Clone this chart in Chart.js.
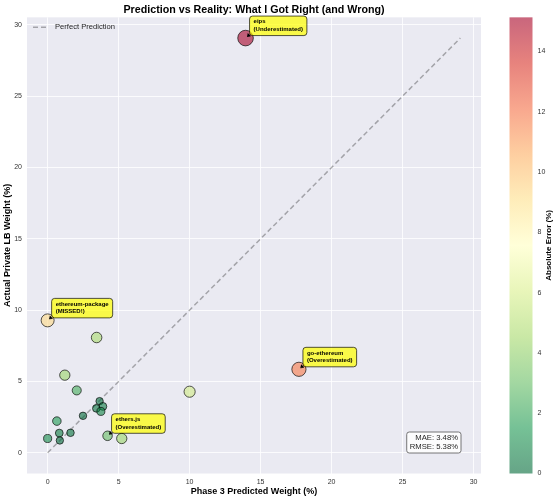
<!DOCTYPE html>
<html><head><meta charset="utf-8">
<script src="https://cdn.jsdelivr.net/npm/chart.js@4.4.1/dist/chart.umd.min.js"></script>
<style>html,body{margin:0;padding:0;background:#fff;}canvas{display:block;}</style>
</head><body>
<canvas id="c" width="559" height="500"></canvas>
<script>
// ---- data ----
const predicted = [0, 3.45, 1.21, 2.05, 10.0, 3.66, 3.89, 3.43, 3.75, 2.49, 0.65, 0.82, 1.61, 0.86, 0, 4.22, 5.22, 17.7, 13.94];
const actual    = [9.28, 8.08, 5.44, 4.37, 4.28, 3.62, 3.25, 3.11, 2.90, 2.59, 2.22, 1.38, 1.40, 0.86, 1.0, 1.19, 1.0, 5.85, 29.07];
const names     = ['ethereum-package','','','','','','','','','','','','','','','ethers.js','','go-ethereum','eips'];
const notes     = ['(MISSED!)','','','','','','','','','','','','','','','(Overestimated)','','(Overestimated)','(Underestimated)'];
const axisTicks = [0, 5, 10, 15, 20, 25, 30];
const colorbarTicks = [0, 2, 4, 6, 8, 10, 12, 14];
const statsLines = ['MAE: 3.48%', 'RMSE: 5.38%'];
const titleText = 'Prediction vs Reality: What I Got Right (and Wrong)';
const xTitle = 'Phase 3 Predicted Weight (%)';
const yTitle = 'Actual Private LB Weight (%)';
const cbTitle = 'Absolute Error (%)';
const lineLabel = 'Perfect Prediction';

// ---- derived ----
const errors = predicted.map((p, i) => Math.abs(actual[i] - p));
const vmin = 0;
const vmax = Math.max(...errors);
const maxV = Math.max(...predicted, ...actual);
const pad = maxV * 0.05;

const FONT = "'Liberation Sans', Arial, sans-serif";
const RdYlGn_r = [[0,104,55],[26,152,80],[102,189,99],[166,217,106],[217,239,139],[255,255,191],[254,224,139],[253,174,97],[244,109,67],[215,48,39],[165,0,38]];
function cmap(t) {
  t = Math.max(0, Math.min(1, t));
  const f = t * (RdYlGn_r.length - 1);
  const i = Math.min(Math.floor(f), RdYlGn_r.length - 2);
  const r = f - i;
  const a = RdYlGn_r[i], b = RdYlGn_r[i + 1];
  return [0,1,2].map(k => Math.round(a[k] + (b[k] - a[k]) * r));
}
function colorFor(e, alpha) {
  const c = cmap((e - vmin) / (vmax - vmin));
  return `rgba(${c[0]},${c[1]},${c[2]},${alpha})`;
}
function radiusFor(e) { return Math.sqrt(17.5 + 3.4 * e) - 0.5; }

const bgPlugin = {
  id: 'bg',
  beforeDraw(chart) {
    const {ctx, chartArea: a} = chart;
    ctx.save();
    ctx.fillStyle = '#EAEAF2';
    ctx.fillRect(a.left, a.top, a.right - a.left, a.bottom - a.top);
    ctx.restore();
  }
};

function roundRect(ctx, x, y, w, h, r) {
  ctx.beginPath();
  ctx.moveTo(x + r, y);
  ctx.lineTo(x + w - r, y);
  ctx.quadraticCurveTo(x + w, y, x + w, y + r);
  ctx.lineTo(x + w, y + h - r);
  ctx.quadraticCurveTo(x + w, y + h, x + w - r, y + h);
  ctx.lineTo(x + r, y + h);
  ctx.quadraticCurveTo(x, y + h, x, y + h - r);
  ctx.lineTo(x, y + r);
  ctx.quadraticCurveTo(x, y, x + r, y);
  ctx.closePath();
}

const overlayPlugin = {
  id: 'overlay',
  afterDraw(chart) {
    const {ctx, chartArea: a, scales} = chart;
    ctx.save();
    // legend
    const ds = chart.data.datasets[1];
    ctx.beginPath();
    ctx.setLineDash(ds.borderDash);
    ctx.strokeStyle = ds.borderColor;
    ctx.lineWidth = ds.borderWidth;
    ctx.moveTo(a.left + 6, a.top + 10);
    ctx.lineTo(a.left + 22, a.top + 10);
    ctx.stroke();
    ctx.setLineDash([]);
    ctx.font = `7.6px ${FONT}`;
    ctx.fillStyle = '#262626';
    ctx.textAlign = 'left';
    ctx.textBaseline = 'middle';
    ctx.fillText(ds.label, a.left + 28, a.top + 10);
    // annotations
    ctx.font = `bold 6px ${FONT}`;
    names.forEach((n, i) => {
      if (!n) return;
      const px = scales.x.getPixelForValue(predicted[i]);
      const py = scales.y.getPixelForValue(actual[i]);
      const lines = [n, notes[i]];
      const w = Math.max(...lines.map(l => ctx.measureText(l).width)) + 8;
      const h = 19.5;
      const bx = px + 4, by = py - 2.5 - h;
      roundRect(ctx, bx, by, w, h, 3);
      ctx.fillStyle = 'rgba(255,255,0,0.7)';
      ctx.fill();
      ctx.strokeStyle = 'rgba(0,0,0,0.75)';
      ctx.lineWidth = 0.9;
      ctx.stroke();
      ctx.fillStyle = '#000';
      ctx.textAlign = 'left';
      ctx.textBaseline = 'middle';
      ctx.fillText(lines[0], bx + 4, by + 5.6);
      ctx.fillText(lines[1], bx + 4, by + 13.2);
      // arrow
      ctx.beginPath();
      ctx.moveTo(bx + 1, by + h + 0.5);
      ctx.lineTo(px + 1.5, py - 1.5);
      ctx.strokeStyle = '#000';
      ctx.lineWidth = 0.8;
      ctx.stroke();
      ctx.beginPath();
      ctx.moveTo(px + 1.5, py - 1.5);
      ctx.lineTo(px + 5, py - 2.2);
      ctx.lineTo(px + 2.2, py - 5);
      ctx.closePath();
      ctx.fillStyle = '#000';
      ctx.fill();
    });
    // stats box
    ctx.font = `7.7px ${FONT}`;
    const sw = Math.max(...statsLines.map(l => ctx.measureText(l).width)) + 6;
    const sx = a.right - 20 - sw, sy = 432, sh = 21;
    roundRect(ctx, sx, sy, sw, sh, 2.5);
    ctx.fillStyle = 'rgba(255,255,255,0.85)';
    ctx.fill();
    ctx.strokeStyle = '#666';
    ctx.lineWidth = 0.9;
    ctx.stroke();
    ctx.fillStyle = '#262626';
    ctx.textAlign = 'right';
    ctx.textBaseline = 'middle';
    ctx.fillText(statsLines[0], sx + sw - 3, sy + 6.3);
    ctx.fillText(statsLines[1], sx + sw - 3, sy + 15);
    // colorbar
    const cx = 509.5, cw = 23;
    const cyTop = a.top, cyBot = a.bottom;
    const grad = ctx.createLinearGradient(0, cyBot, 0, cyTop);
    RdYlGn_r.forEach((c, k) => grad.addColorStop(k / (RdYlGn_r.length - 1), `rgb(${c[0]},${c[1]},${c[2]})`));
    ctx.fillStyle = '#fff';
    ctx.fillRect(cx, cyTop, cw, cyBot - cyTop);
    ctx.globalAlpha = 0.6;
    ctx.fillStyle = grad;
    ctx.fillRect(cx, cyTop, cw, cyBot - cyTop);
    ctx.globalAlpha = 1;
    ctx.font = `7px ${FONT}`;
    ctx.fillStyle = '#333';
    ctx.textAlign = 'left';
    ctx.textBaseline = 'middle';
    colorbarTicks.forEach(t => {
      const y = cyBot - (t - vmin) / (vmax - vmin) * (cyBot - cyTop);
      ctx.fillText(String(t), cx + cw + 5, y);
    });
    ctx.save();
    ctx.translate(549, (cyTop + cyBot) / 2);
    ctx.rotate(-Math.PI / 2);
    ctx.font = `bold 8px ${FONT}`;
    ctx.fillStyle = '#000';
    ctx.textAlign = 'center';
    ctx.fillText(cbTitle, 0, 0);
    ctx.restore();
    ctx.restore();
  }
};

const scatterData = predicted.map((p, i) => ({x: p, y: actual[i]}));

new Chart(document.getElementById('c'), {
  type: 'scatter',
  data: {
    datasets: [
      {
        label: 'Projects',
        data: scatterData,
        pointBackgroundColor: c => colorFor(errors[c.dataIndex], 0.6),
        pointBorderColor: 'rgba(0,0,0,0.65)',
        pointBorderWidth: 1,
        pointRadius: c => radiusFor(errors[c.dataIndex]),
        pointHoverRadius: c => radiusFor(errors[c.dataIndex]),
        order: 1
      },
      {
        type: 'line',
        label: lineLabel,
        data: [{x: 0, y: 0}, {x: maxV, y: maxV}],
        borderColor: 'rgba(0,0,0,0.3)',
        borderWidth: 1.5,
        borderDash: [5, 3],
        pointRadius: 0,
        fill: false,
        order: 2
      }
    ]
  },
  options: {
    responsive: false,
    animation: false,
    devicePixelRatio: 1,
    layout: {padding: {left: 0, right: 78, top: 0, bottom: 0}},
    plugins: {
      tooltip: {enabled: false},
      legend: {display: false},
      title: {
        display: true, text: titleText, fullSize: false,
        font: {family: FONT, size: 10.7, weight: 'bold'}, color: '#000',
        padding: {top: 3.5, bottom: 1}
      }
    },
    scales: {
      x: {
        type: 'linear',
        min: -pad, max: maxV + pad,
        afterFit: s => { s.height = 26.5; },
        afterBuildTicks: s => { s.ticks = axisTicks.map(v => ({value: v})); },
        ticks: {font: {family: FONT, size: 7}, color: '#333', padding: 4, includeBounds: false},
        grid: {color: '#fff', lineWidth: 0.8, drawTicks: false},
        border: {display: false},
        title: {display: true, text: xTitle, font: {family: FONT, size: 9, weight: 'bold'}, color: '#000', padding: {top: 0, bottom: 2.8}}
      },
      y: {
        type: 'linear',
        min: -pad, max: maxV + pad,
        afterFit: s => { s.width = 27; },
        afterBuildTicks: s => { s.ticks = axisTicks.map(v => ({value: v})); },
        ticks: {font: {family: FONT, size: 7}, color: '#333', padding: 5, includeBounds: false},
        grid: {color: '#fff', lineWidth: 0.8, drawTicks: false},
        border: {display: false},
        title: {display: true, text: yTitle, font: {family: FONT, size: 9, weight: 'bold'}, color: '#000', padding: {top: 2.5, bottom: 0}}
      }
    }
  },
  plugins: [bgPlugin, overlayPlugin]
});
</script>
</body></html>
